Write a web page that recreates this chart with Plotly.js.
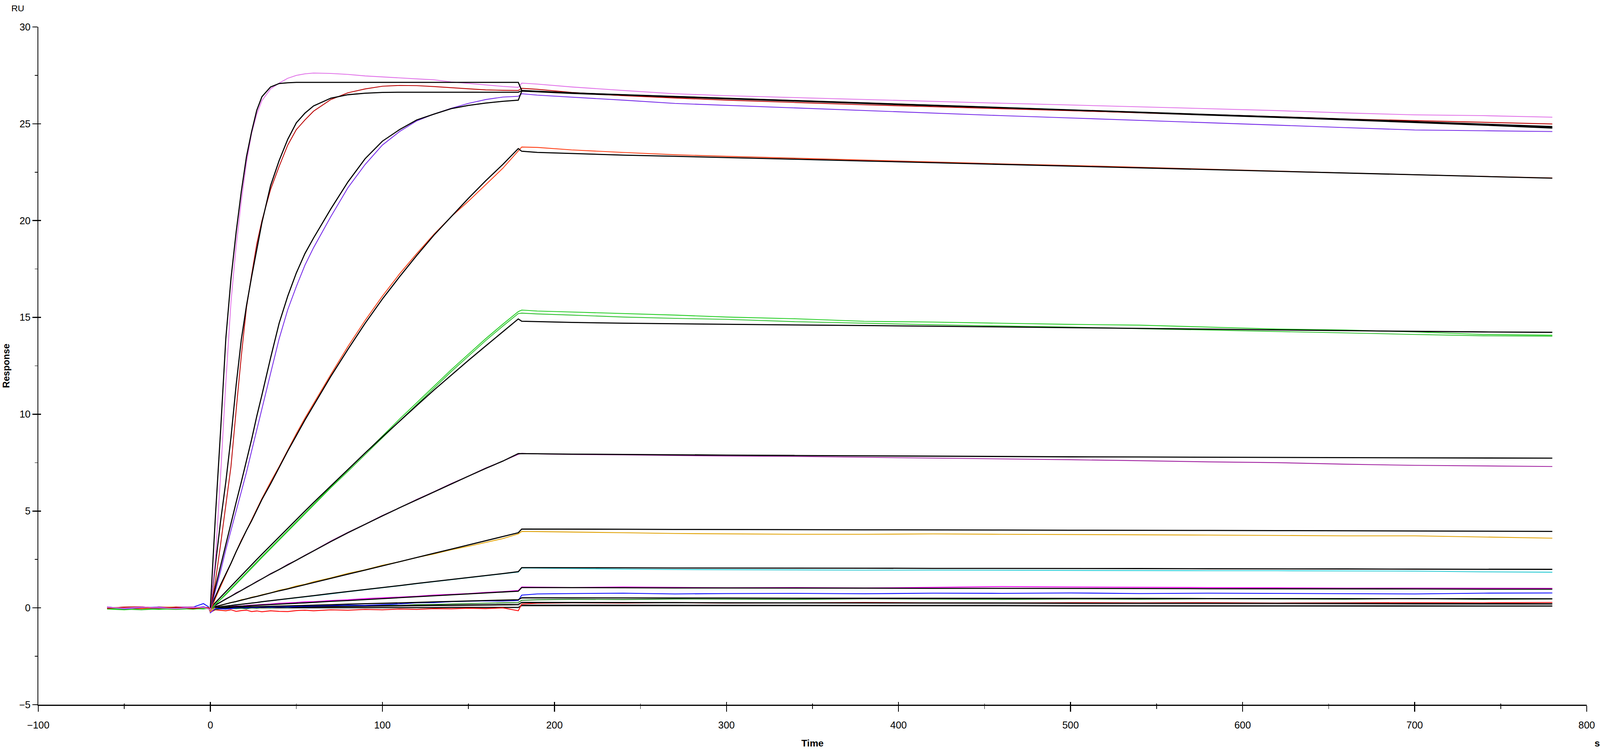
<!DOCTYPE html>
<html>
<head>
<meta charset="utf-8">
<script src="https://cdn.plot.ly/plotly-3.0.1.min.js"></script>
<style>
  html, body { margin: 0; padding: 0; background: #fff; overflow: hidden; }
</style>
</head>
<body>
<div id="plot"></div>
<script>
// sensorgram time grid (s): baseline, association (0-180), dissociation (180-780)
const time = [-60, -50, -40, -30, -20, -10, -4, -1,
  0, 3, 6, 9, 12, 15, 18, 21, 24, 27, 30, 35, 40, 45, 50, 55, 60, 70, 80, 90, 100, 110, 120, 130, 140, 150, 160, 170, 179,
  181, 190, 210, 240, 270, 300, 340, 380, 420, 460, 500, 540, 580, 620, 660, 700, 740, 780];
// fitted curves start at injection
const fitTime = time.slice(8);

// measured responses (RU), one per injection
const resp1 = [0.03, -0.02, 0.05, 0.0, -0.04, 0.03, 0.02, -0.05,
  -0.1, 2.6, 6.9, 11.6, 15.8, 18.7, 21.0, 23.0, 24.5, 25.5, 26.2, 26.8, 27.1, 27.35, 27.5, 27.58, 27.62, 27.6, 27.55, 27.47, 27.42, 27.38, 27.32, 27.27, 27.16, 27.08, 27.0, 26.93, 26.88,
  27.1, 27.05, 26.9, 26.72, 26.55, 26.45, 26.35, 26.25, 26.15, 26.06, 25.97, 25.88, 25.78, 25.68, 25.56, 25.46, 25.42, 25.34];
const resp2 = [-0.03, 0.04, 0.06, -0.02, 0.03, -0.04, 0.02, 0.0,
  -0.08, 1.4, 3.3, 5.3, 7.3, 10.2, 13.0, 15.5, 17.2, 18.8, 20.0, 21.6, 22.8, 23.9, 24.7, 25.2, 25.65, 26.25, 26.6, 26.8, 26.94, 26.98, 26.97, 26.92, 26.86, 26.8, 26.75, 26.73, 26.72,
  26.83, 26.78, 26.62, 26.45, 26.33, 26.22, 26.1, 25.98, 25.88, 25.78, 25.68, 25.57, 25.47, 25.37, 25.25, 25.16, 25.08, 24.99];
const resp3 = [0.05, -0.05, 0.02, 0.04, -0.03, 0.0, 0.06, -0.02,
  -0.12, 0.9, 1.9, 3.0, 4.0, 5.0, 6.0, 7.0, 8.1, 9.2, 10.3, 12.1, 13.9, 15.4, 16.6, 17.7, 18.6, 20.2, 21.7, 22.9, 23.9, 24.6, 25.15, 25.5, 25.8, 26.05, 26.25, 26.38, 26.42,
  26.55, 26.48, 26.38, 26.22, 26.05, 25.95, 25.82, 25.68, 25.55, 25.42, 25.3, 25.18, 25.05, 24.93, 24.8, 24.68, 24.64, 24.6];
const resp4 = [0.02, 0.0, -0.04, 0.05, 0.01, -0.03, 0.03, 0.0,
  -0.15, 0.5, 1.1, 1.7, 2.3, 2.9, 3.5, 4.0, 4.55, 5.1, 5.65, 6.5, 7.3, 8.15, 9.0, 9.8, 10.55, 12.05, 13.5, 14.85, 16.1, 17.25, 18.3, 19.3, 20.2, 21.0, 21.85, 22.7, 23.6,
  23.8, 23.78, 23.65, 23.52, 23.4, 23.32, 23.22, 23.12, 23.02, 22.93, 22.85, 22.75, 22.66, 22.56, 22.46, 22.37, 22.28, 22.2];
const resp5a = [-0.06, -0.1, -0.04, -0.08, -0.03, -0.07, -0.02, -0.05,
  -0.1, 0.2, 0.45, 0.72, 1.0, 1.28, 1.55, 1.82, 2.1, 2.38, 2.65, 3.1, 3.55, 4.0, 4.45, 4.9, 5.35, 6.25, 7.12, 8.0, 8.88, 9.75, 10.6, 11.45, 12.3, 13.1, 13.9, 14.65, 15.3,
  15.38, 15.33, 15.28, 15.2, 15.12, 15.02, 14.93, 14.8, 14.76, 14.7, 14.64, 14.6, 14.5, 14.4, 14.35, 14.25, 14.12, 14.08];
const resp5b = [-0.03, -0.07, -0.1, -0.05, -0.08, -0.04, -0.06, -0.02,
  -0.12, 0.18, 0.42, 0.68, 0.95, 1.22, 1.5, 1.78, 2.05, 2.32, 2.6, 3.05, 3.5, 3.95, 4.4, 4.85, 5.3, 6.2, 7.05, 7.92, 8.8, 9.65, 10.5, 11.35, 12.2, 13.0, 13.8, 14.55, 15.2,
  15.22, 15.18, 15.12, 15.02, 14.95, 14.9, 14.78, 14.7, 14.62, 14.56, 14.5, 14.42, 14.35, 14.27, 14.2, 14.12, 14.05, 14.03];
const resp6 = [0.04, -0.02, 0.03, -0.05, 0.02, 0.05, -0.03, 0.01,
  -0.05, 0.12, 0.3, 0.47, 0.6, 0.78, 0.9, 1.07, 1.2, 1.37, 1.5, 1.77, 1.98, 2.25, 2.46, 2.72, 2.95, 3.45, 3.9, 4.32, 4.77, 5.17, 5.6, 6.0, 6.42, 6.8, 7.22, 7.58, 7.93,
  7.98, 7.95, 7.92, 7.9, 7.87, 7.84, 7.82, 7.78, 7.74, 7.7, 7.65, 7.6, 7.54, 7.5, 7.42, 7.36, 7.33, 7.3];
const resp7 = [0.0, 0.03, -0.02, 0.02, 0.04, -0.01, 0.0, 0.02,
  -0.2, 0.08, 0.12, 0.2, 0.28, 0.32, 0.42, 0.46, 0.55, 0.6, 0.68, 0.78, 0.91, 1.0, 1.13, 1.22, 1.35, 1.55, 1.78, 1.97, 2.2, 2.38, 2.6, 2.78, 3.0, 3.18, 3.38, 3.58, 3.82,
  3.95, 3.94, 3.92, 3.88, 3.84, 3.82, 3.8, 3.8, 3.82, 3.8, 3.79, 3.78, 3.76, 3.74, 3.72, 3.72, 3.66, 3.6];
const resp8 = [0.02, -0.03, 0.0, 0.04, -0.02, 0.01, 0.03, 0.0,
  -0.18, 0.02, 0.06, 0.08, 0.12, 0.17, 0.18, 0.22, 0.25, 0.28, 0.31, 0.36, 0.42, 0.47, 0.52, 0.57, 0.62, 0.72, 0.83, 0.93, 1.04, 1.14, 1.25, 1.35, 1.45, 1.56, 1.65, 1.75, 1.85,
  2.06, 2.05, 2.02, 2.0, 1.98, 1.97, 1.96, 1.95, 1.95, 1.94, 1.93, 1.93, 1.92, 1.92, 1.91, 1.9, 1.86, 1.84];
const resp9 = [-0.02, 0.04, 0.0, -0.03, 0.05, 0.02, -0.04, 0.01,
  -0.22, 0.0, 0.04, 0.05, 0.07, 0.1, 0.1, 0.13, 0.14, 0.16, 0.18, 0.2, 0.24, 0.26, 0.28, 0.32, 0.32, 0.38, 0.42, 0.48, 0.52, 0.56, 0.6, 0.66, 0.7, 0.74, 0.8, 0.84, 0.9,
  1.08, 1.07, 1.05, 1.08, 1.06, 1.04, 1.05, 1.03, 1.06, 1.1, 1.08, 1.06, 1.05, 1.04, 1.02, 1.02, 1.01, 1.01];
const resp10 = [0.03, 0.0, 0.05, -0.02, 0.02, 0.04, 0.22, 0.05,
  -0.25, -0.02, -0.05, -0.06, -0.04, 0.0, 0.02, 0.0, 0.03, 0.02, 0.05, 0.04, 0.06, 0.05, 0.07, 0.09, 0.1, 0.12, 0.14, 0.13, 0.16, 0.2, 0.26, 0.27, 0.32, 0.34, 0.36, 0.35, 0.38,
  0.66, 0.72, 0.74, 0.76, 0.72, 0.74, 0.75, 0.73, 0.76, 0.75, 0.77, 0.74, 0.76, 0.75, 0.74, 0.72, 0.76, 0.77];
const resp11 = [0.0, -0.03, 0.02, 0.0, -0.02, 0.03, 0.0, -0.01,
  -0.2, -0.08, -0.05, -0.06, -0.03, -0.04, -0.02, -0.05, 0.0, -0.02, 0.02, 0.0, 0.04, 0.02, 0.06, 0.05, 0.08, 0.1, 0.09, 0.12, 0.14, 0.13, 0.17, 0.18, 0.2, 0.22, 0.24, 0.25, 0.28,
  0.39, 0.42, 0.44, 0.43, 0.46, 0.45, 0.44, 0.47, 0.45, 0.44, 0.46, 0.45, 0.47, 0.46, 0.45, 0.48, 0.44, 0.46];
const resp12 = [0.02, -0.02, 0.0, 0.03, -0.04, 0.0, 0.02, -0.03,
  -0.22, -0.1, -0.12, -0.15, -0.1, -0.18, -0.14, -0.12, -0.19, -0.16, -0.2, -0.15, -0.18, -0.19, -0.14, -0.12, -0.15, -0.1, -0.12, -0.08, -0.1, -0.06, -0.08, -0.04, -0.05, -0.02, -0.04, 0.0, -0.15,
  0.2, 0.24, 0.26, 0.25, 0.27, 0.25, 0.26, 0.28, 0.26, 0.25, 0.27, 0.26, 0.27, 0.25, 0.26, 0.27, 0.26, 0.28];
const resp13 = [0.01, 0.0, -0.01, 0.02, 0.0, -0.02, 0.01, 0.0,
  -0.15, -0.04, -0.03, -0.02, -0.02, -0.01, 0.0, 0.0, 0.01, 0.0, 0.02, 0.02, 0.03, 0.03, 0.04, 0.04, 0.05, 0.06, 0.06, 0.07, 0.08, 0.08, 0.09, 0.1, 0.1, 0.11, 0.12, 0.12, 0.13,
  0.17, 0.17, 0.16, 0.16, 0.17, 0.16, 0.16, 0.15, 0.16, 0.16, 0.15, 0.15, 0.16, 0.15, 0.15, 0.15, 0.16, 0.16];

// kinetic fits (RU), on fitTime
const fit1 = [0, 4.8, 9.2, 13.9, 17.0, 19.4, 21.5, 23.3, 24.6, 25.7, 26.4, 26.9, 27.08, 27.12, 27.14, 27.14, 27.14, 27.14, 27.14, 27.14, 27.14, 27.14, 27.14, 27.14, 27.14, 27.14, 27.14, 27.14, 27.14,
  26.72, 26.68, 26.6, 26.5, 26.41, 26.33, 26.21, 26.09, 25.97, 25.85, 25.73, 25.61, 25.49, 25.37, 25.24, 25.11, 24.98, 24.86];
const fit2 = [0, 2.3, 4.5, 6.5, 8.8, 11.5, 13.85, 15.6, 17.1, 18.5, 19.9, 21.8, 23.1, 24.2, 25.05, 25.55, 25.92, 26.32, 26.5, 26.58, 26.62, 26.63, 26.63, 26.63, 26.63, 26.63, 26.63, 26.63, 26.63,
  26.71, 26.67, 26.59, 26.49, 26.4, 26.32, 26.2, 26.08, 25.96, 25.84, 25.72, 25.6, 25.48, 25.36, 25.23, 25.1, 24.96, 24.82];
const fit3 = [0, 1.1, 2.2, 3.3, 4.35, 5.45, 6.5, 7.6, 8.7, 9.9, 11.0, 12.9, 14.7, 16.1, 17.3, 18.3, 19.1, 20.6, 22.0, 23.2, 24.1, 24.7, 25.2, 25.5, 25.78, 25.95, 26.07, 26.16, 26.22,
  26.69, 26.65, 26.57, 26.47, 26.38, 26.3, 26.18, 26.06, 25.94, 25.82, 25.7, 25.58, 25.46, 25.33, 25.2, 25.07, 24.93, 24.78];
const fit4 = [0, 0.6, 1.2, 1.75, 2.3, 2.9, 3.45, 4.0, 4.5, 5.05, 5.6, 6.4, 7.25, 8.1, 8.9, 9.7, 10.45, 11.95, 13.35, 14.7, 15.95, 17.1, 18.2, 19.25, 20.2, 21.15, 22.05, 22.9, 23.72,
  23.58, 23.52, 23.46, 23.38, 23.32, 23.26, 23.17, 23.08, 22.99, 22.9, 22.81, 22.72, 22.63, 22.54, 22.45, 22.36, 22.27, 22.19];
const fit5 = [0, 0.28, 0.56, 0.84, 1.12, 1.4, 1.67, 1.95, 2.22, 2.5, 2.77, 3.22, 3.67, 4.12, 4.56, 5.0, 5.44, 6.3, 7.15, 8.0, 8.83, 9.65, 10.45, 11.25, 12.02, 12.78, 13.52, 14.25, 14.92,
  14.8, 14.78, 14.74, 14.7, 14.67, 14.64, 14.61, 14.58, 14.55, 14.51, 14.47, 14.43, 14.39, 14.35, 14.32, 14.28, 14.25, 14.23];
const fit6 = [0, 0.15, 0.3, 0.45, 0.6, 0.75, 0.9, 1.05, 1.2, 1.35, 1.5, 1.75, 1.98, 2.22, 2.46, 2.7, 2.95, 3.42, 3.88, 4.32, 4.75, 5.17, 5.58, 5.99, 6.4, 6.8, 7.2, 7.58, 7.97,
  7.97, 7.96, 7.94, 7.92, 7.9, 7.89, 7.87, 7.85, 7.83, 7.82, 7.8, 7.79, 7.78, 7.77, 7.75, 7.74, 7.73, 7.73];
const fit7 = [0, 0.07, 0.14, 0.2, 0.27, 0.33, 0.4, 0.46, 0.53, 0.59, 0.66, 0.77, 0.88, 0.98, 1.09, 1.2, 1.31, 1.52, 1.74, 1.95, 2.17, 2.39, 2.6, 2.82, 3.03, 3.25, 3.46, 3.68, 3.88,
  4.07, 4.07, 4.06, 4.06, 4.05, 4.05, 4.04, 4.03, 4.03, 4.02, 4.01, 4.01, 4.0, 3.99, 3.98, 3.96, 3.95, 3.95];
const fit8 = [0, 0.03, 0.06, 0.09, 0.13, 0.16, 0.19, 0.22, 0.25, 0.28, 0.32, 0.37, 0.42, 0.47, 0.53, 0.58, 0.63, 0.74, 0.84, 0.95, 1.05, 1.15, 1.26, 1.36, 1.46, 1.56, 1.67, 1.77, 1.87,
  2.08, 2.08, 2.07, 2.07, 2.06, 2.06, 2.05, 2.05, 2.04, 2.04, 2.03, 2.03, 2.02, 2.02, 2.01, 2.0, 2.0, 1.99];
const fit9 = [0, 0.01, 0.03, 0.04, 0.06, 0.07, 0.09, 0.1, 0.12, 0.13, 0.14, 0.17, 0.19, 0.22, 0.24, 0.26, 0.29, 0.34, 0.38, 0.43, 0.48, 0.53, 0.58, 0.62, 0.67, 0.72, 0.77, 0.82, 0.86,
  1.05, 1.05, 1.04, 1.04, 1.03, 1.03, 1.02, 1.02, 1.01, 1.01, 1.0, 1.0, 0.99, 0.99, 0.98, 0.98, 0.97, 0.97];
const fit10 = [0, 0.01, 0.01, 0.02, 0.03, 0.04, 0.04, 0.05, 0.06, 0.06, 0.07, 0.08, 0.09, 0.11, 0.12, 0.13, 0.14, 0.16, 0.19, 0.21, 0.24, 0.26, 0.28, 0.31, 0.33, 0.35, 0.38, 0.4, 0.42,
  0.52, 0.52, 0.52, 0.51, 0.51, 0.51, 0.5, 0.5, 0.5, 0.49, 0.49, 0.49, 0.48, 0.48, 0.48, 0.47, 0.47, 0.47];
const fit11 = [0, 0, 0.01, 0.01, 0.01, 0.02, 0.02, 0.02, 0.03, 0.03, 0.03, 0.04, 0.04, 0.05, 0.05, 0.06, 0.06, 0.07, 0.08, 0.09, 0.1, 0.11, 0.12, 0.13, 0.14, 0.15, 0.16, 0.17, 0.18,
  0.28, 0.28, 0.27, 0.27, 0.27, 0.26, 0.26, 0.26, 0.25, 0.25, 0.24, 0.24, 0.24, 0.23, 0.23, 0.22, 0.22, 0.21];
const fit12 = [0, 0, 0, 0, 0, 0, 0, 0, 0, 0, 0, 0, 0, 0, 0, 0, 0, 0.01, 0.01, 0.01, 0.01, 0.01, 0.01, 0.01, 0.02, 0.02, 0.02, 0.02, 0.02,
  0.12, 0.12, 0.12, 0.12, 0.11, 0.11, 0.11, 0.11, 0.11, 0.11, 0.1, 0.1, 0.1, 0.1, 0.1, 0.1, 0.09, 0.09];

const xTicks = { range: [-100, 800], dtick: 100, minor: 50 };
const yTicks = { range: [-5, 30], dtick: 5, minor: 2.5 };

const FONT = 'Liberation Sans, Arial, sans-serif';

// the chart is laid out for a 5000 x 1920 canvas; fit it to the real viewport
const W = window.innerWidth || 5000;
const H = window.innerHeight || 1920;
const SX = W / 5000;
const SY = H / 1920;
const SF = Math.min(SX, SY);
const px = v => v * SX;   // horizontal sizes
const py = v => v * SY;   // vertical sizes
const pf = v => v * SF;   // fonts, strokes

const plotDiv = document.getElementById('plot');
plotDiv.style.width = W + 'px';
plotDiv.style.height = H + 'px';

function sensorgram(y, color) {
  return { x: time, y: y, type: 'scatter', mode: 'lines', line: { color: color, width: pf(2.6) }, hoverinfo: 'skip' };
}

function fitted(y) {
  return { x: fitTime, y: y, type: 'scatter', mode: 'lines', line: { color: '#000000', width: pf(3.4) }, hoverinfo: 'skip' };
}

const traces = [
  sensorgram(resp13, '#a0a0a0'), fitted(fit12),
  sensorgram(resp12, '#ff0000'),
  sensorgram(resp11, '#127a12'), fitted(fit11),
  sensorgram(resp10, '#0000ff'), fitted(fit10),
  sensorgram(resp9, '#ff00ff'), fitted(fit9),
  sensorgram(resp8, '#22c8d2'), fitted(fit8),
  sensorgram(resp7, '#e0a000'), fitted(fit7),
  sensorgram(resp6, '#a020a0'), fitted(fit6),
  sensorgram(resp5b, '#30c030'), sensorgram(resp5a, '#22cc22'), fitted(fit5),
  sensorgram(resp4, '#ff3a10'), fitted(fit4),
  sensorgram(resp3, '#7428e8'), fitted(fit3),
  sensorgram(resp2, '#b80000'), fitted(fit2),
  sensorgram(resp1, '#e070e8'), fitted(fit1),
  // empty trace so the inner tick axes get drawn
  { x: [], y: [], xaxis: 'x2', yaxis: 'y2', type: 'scatter', mode: 'lines', hoverinfo: 'skip' }
];

const layout = {
  width: W,
  height: H,
  paper_bgcolor: '#ffffff',
  plot_bgcolor: '#ffffff',
  showlegend: false,
  margin: { l: px(120), r: px(42), t: py(69), b: py(116), pad: 0 },
  font: { family: FONT, color: '#000000' },
  xaxis: {
    range: xTicks.range, tick0: 0, dtick: xTicks.dtick,
    ticks: 'outside', ticklen: py(15), tickwidth: pf(3), tickcolor: '#000',
    minor: { dtick: xTicks.minor, ticks: 'outside', ticklen: py(8), tickwidth: pf(2), tickcolor: '#000', showgrid: false },
    showline: true, linecolor: '#000', linewidth: pf(4),
    showgrid: false, zeroline: false,
    tickfont: { family: FONT, size: pf(31), color: '#000' },
    ticklabelstandoff: py(12),
    title: { text: 'Time', font: { family: FONT, size: pf(30), weight: 'bold', color: '#000' }, standoff: py(26) }
  },
  yaxis: {
    range: yTicks.range, tick0: 0, dtick: yTicks.dtick,
    ticks: 'outside', ticklen: px(15), tickwidth: pf(3), tickcolor: '#000',
    minor: { dtick: yTicks.minor, ticks: 'outside', ticklen: px(8), tickwidth: pf(2), tickcolor: '#000', showgrid: false },
    showline: true, linecolor: '#000', linewidth: pf(3),
    showgrid: false, zeroline: false,
    tickfont: { family: FONT, size: pf(31), color: '#000' },
    ticklabelstandoff: px(14),
    title: { text: 'Response', font: { family: FONT, size: pf(29), weight: 'bold', color: '#000' }, standoff: px(22) }
  },
  xaxis2: {
    overlaying: 'x', anchor: 'y2', range: xTicks.range, tick0: 0, dtick: xTicks.dtick,
    ticks: 'inside', ticklen: py(7), tickwidth: pf(3), tickcolor: '#000',
    minor: { dtick: xTicks.minor, ticks: 'inside', ticklen: py(3), tickwidth: pf(2), tickcolor: '#000', showgrid: false },
    showticklabels: false, showline: false, showgrid: false, zeroline: false
  },
  yaxis2: {
    overlaying: 'y', anchor: 'x2', range: yTicks.range, tick0: 0, dtick: yTicks.dtick,
    ticks: 'inside', ticklen: px(8), tickwidth: pf(3), tickcolor: '#000',
    showticklabels: false, showline: false, showgrid: false, zeroline: false
  },
  annotations: [
    { text: 'RU', xref: 'paper', yref: 'paper', x: -0.0132, y: 1.0277, xanchor: 'center', yanchor: 'middle',
      showarrow: false, font: { family: FONT, size: pf(28), color: '#000' } },
    { text: 's', xref: 'paper', yref: 'paper', x: 1.0068, y: -0.0565, xanchor: 'center', yanchor: 'middle',
      showarrow: false, font: { family: FONT, size: pf(30), weight: 'bold', color: '#000' } }
  ]
};

Plotly.newPlot(plotDiv, traces, layout, { staticPlot: true, displayModeBar: false });
</script>
</body>
</html>
